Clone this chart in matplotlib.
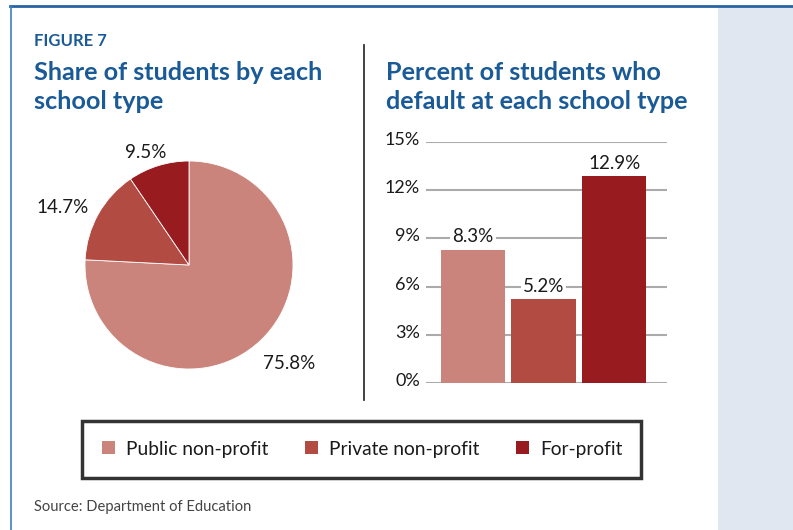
import numpy as np
import matplotlib
matplotlib.use("Agg")
import matplotlib.pyplot as plt
import matplotlib.transforms as mtransforms
from matplotlib.patches import Patch, Rectangle
from matplotlib.lines import Line2D

# Data
categories  = ["Public non-profit", "Private non-profit", "For-profit"]
share_pct   = [75.8, 14.7, 9.5]
default_pct = [8.3, 5.2, 12.9]
yticks      = [0, 3, 6, 9, 12, 15]
colors      = ["#cb847c", "#b24c43", "#981b20"]

plt.rcParams['font.family'] = ['Lato', 'DejaVu Sans']

W, H = 793, 530
fig = plt.figure(figsize=(W / 100, H / 100), dpi=100)
fig.patch.set_facecolor("white")

def box(x0, y0, x1, y1):
    # pixel box with top-left origin -> figure fraction rect
    return [x0 / W, 1 - y1 / H, (x1 - x0) / W, (y1 - y0) / H]

def fx(x):
    return x / W

def fy(y):
    return 1 - y / H

blue_title = "#1a5a96"
ink = "#1a1a1a"

# Frame decorations
fig.add_artist(Rectangle((fx(718), 0), 1 - fx(718), fy(7), transform=fig.transFigure,
                         facecolor="#e1e7f1", edgecolor="none", zorder=0))
fig.add_artist(Line2D([fx(10), 1], [fy(6), fy(6)], color="#2563a3", lw=2))
fig.add_artist(Line2D([fx(10.5), fx(10.5)], [fy(6), 0], color="#3c7fc2", lw=1.2))
fig.add_artist(Line2D([fx(364), fx(364)], [fy(45), fy(400)], color="#333333", lw=1.3))

# Titles
title_kw = dict(fontsize=18.2, fontweight="bold", color=blue_title, va="baseline")
fig.text(fx(34), fy(46), "FIGURE 7", fontsize=12, fontweight="bold", color=blue_title, va="baseline")
fig.text(fx(34), fy(80), "Share of students by each", **title_kw)
fig.text(fx(34), fy(109), "school type", **title_kw)
fig.text(fx(386), fy(80), "Percent of students who", **title_kw)
fig.text(fx(386), fy(109), "default at each school type", **title_kw)

# Pie
ax_pie = fig.add_axes(box(85, 161, 293, 369))
wedges, _ = ax_pie.pie(share_pct, colors=colors, startangle=90, counterclock=False,
                       wedgeprops=dict(linewidth=0.6, edgecolor="white"))
ax_pie.set_xlim(-1, 1)
ax_pie.set_ylim(-1, 1)
ax_pie.set_aspect("equal")
label_dist = [1.35, 1.33, 1.16]
label_turn = [2.0, 5.0, 3.7]
for w, v, d, t in zip(wedges, share_pct, label_dist, label_turn):
    ang = np.deg2rad((w.theta1 + w.theta2) / 2 + t)
    ax_pie.text(d * np.cos(ang), d * np.sin(ang), f"{v}%", ha="center", va="center",
                fontsize=13.5, color=ink, clip_on=False)

# Bars
ax_bar = fig.add_axes(box(426, 142, 667, 383))
x = np.arange(len(categories))
bars = ax_bar.bar(x, default_pct, width=0.91, color=colors, zorder=3)
ax_bar.set_xlim(-0.667, 2.75)
ax_bar.set_ylim(0, 15)
ax_bar.set_yticks(yticks, [f"{t}%" for t in yticks])
ax_bar.set_xticks([])
ax_bar.yaxis.grid(True, color="#ababab", lw=1.5)
ax_bar.set_axisbelow(True)
ax_bar.tick_params(axis="y", length=0, pad=4.5, labelsize=13, labelcolor=ink)
for s in ax_bar.spines.values():
    s.set_visible(False)
offset = mtransforms.ScaledTranslation(0, 2.5 / 72, fig.dpi_scale_trans)
for lab in ax_bar.get_yticklabels():
    lab.set_transform(lab.get_transform() + offset)
ax_bar.bar_label(bars, labels=[f"{v}%" for v in default_pct], padding=3, fontsize=13.5,
                 color=ink, bbox=dict(facecolor="white", edgecolor="none", pad=1.5), zorder=4)

# Legend: frame drawn separately, entries centred inside it
fig.add_artist(Rectangle((fx(82), fy(478)), fx(641) - fx(82), fy(421) - fy(478),
                         transform=fig.transFigure, facecolor="white",
                         edgecolor="#333333", lw=2.5, zorder=1))
handles = [Patch(facecolor=c, edgecolor="none") for c in colors]
leg = fig.legend(handles, categories, ncol=3, loc="center",
                 bbox_to_anchor=(fx(362), fy(449)),
                 frameon=False, handlelength=0.68, handleheight=0.68,
                 handletextpad=0.58, columnspacing=1.9, borderpad=0, fontsize=13.8)
leg.set_zorder(2)
for t in leg.get_texts():
    t.set_color(ink)

# Source
fig.text(fx(34), fy(507), "Source: Department of Education", fontsize=10.6, color="#444444", va="center")

plt.savefig("out.png", dpi=100)
